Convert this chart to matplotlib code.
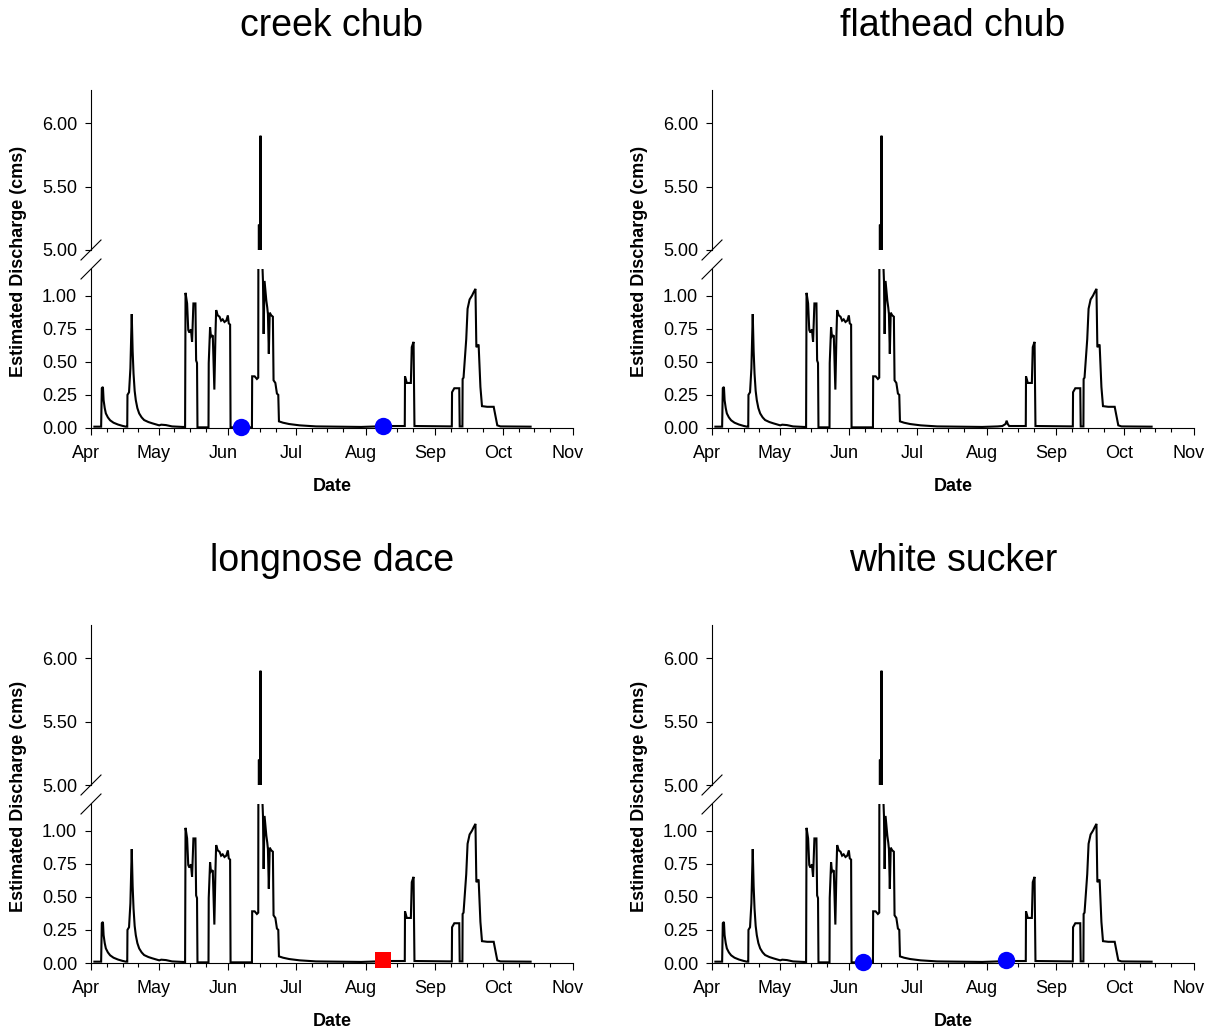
import numpy as np
import pandas as pd
import matplotlib
matplotlib.use('Agg')
import matplotlib.pyplot as plt
import matplotlib.dates as mdates
import matplotlib.ticker as mticker
import matplotlib.transforms as mtransforms

plt.rcParams['font.family'] = ['Liberation Sans', 'DejaVu Sans']

START = pd.Timestamp('2011-04-01')
END = pd.Timestamp('2011-11-01')

# estimated discharge record: days after 1 April, flow in cms
flowDays = [1.5, 4.5, 4.8, 5.3, 5.6, 6.1, 6.6, 7.5, 8.5, 10.0,
            12.0, 14.0, 15.5, 16.1,
            16.2, 16.9, 17.5, 18.1, 18.5, 18.9, 19.4, 19.9, 20.6, 21.4,
            22.5, 23.6, 25.5, 27.3, 30.3, 31.2,
            33.3, 36.0, 40.7, 41.8, 42.0, 42.7, 43.2, 43.7, 44.4, 44.9,
            45.5, 46.4, 46.7, 47.1, 47.3, 52.2, 52.3, 52.9, 53.3, 54.1,
            54.8, 55.3, 55.6, 56.3, 57.1, 57.8, 58.5, 59.3, 60.1, 60.8,
            61.2, 61.8, 62.0, 71.5, 71.6, 72.7, 73.7, 74.3, 74.6, 74.9,
            75.3, 75.6, 76.1, 76.4, 76.7, 77.1, 77.9, 78.3, 78.6, 79.0,
            79.4, 80.1, 80.8, 81.1, 81.9, 82.6, 83.2, 83.5, 85.3, 88.0,
            92.7, 100.0, 110.0, 120.0, 127.0, 129.0, 130.4, 130.9, 131.4, 132.0,
            139.4, 139.5, 140.3, 142.1, 142.5, 143.3, 143.7, 160.3, 160.4, 161.4,
            163.6, 163.8, 165.0, 165.1, 165.5, 166.7, 167.3, 168.2, 169.3, 170.0,
            170.8, 171.2, 172.2, 173.0, 173.7, 176.0, 178.9, 179.7, 180.5, 181.9,
            195.3]
flowCms = [0.01, 0.01, 0.30, 0.31, 0.21, 0.15, 0.11, 0.08, 0.058, 0.04,
           0.026, 0.016, 0.01, 0.01,
           0.25, 0.27, 0.45, 0.86, 0.58, 0.41, 0.28, 0.21, 0.15, 0.11,
           0.08, 0.06, 0.045, 0.035, 0.02, 0.025,
           0.022, 0.012, 0.008, 0.008, 1.02, 0.94, 0.74, 0.72, 0.745, 0.65,
           0.94, 0.94, 0.51, 0.49, 0.005, 0.005, 0.49, 0.76, 0.69, 0.70,
           0.29, 0.71, 0.89, 0.85, 0.84, 0.81, 0.82, 0.80, 0.81, 0.85,
           0.79, 0.78, 0.005, 0.005, 0.39, 0.39, 0.37, 0.38, 5.2, 1.3,
           5.9, 1.3, 1.25, 1.11, 0.71, 1.11, 0.96, 0.91, 0.86, 0.56,
           0.87, 0.85, 0.84, 0.36, 0.34, 0.26, 0.25, 0.05, 0.04, 0.03,
           0.02, 0.012, 0.01, 0.008, 0.012, 0.015, 0.03, 0.055, 0.03, 0.015,
           0.015, 0.39, 0.34, 0.34, 0.61, 0.65, 0.015, 0.012, 0.27, 0.30,
           0.30, 0.012, 0.012, 0.37, 0.38, 0.67, 0.90, 0.97, 1.00, 1.025,
           1.05, 0.61, 0.63, 0.31, 0.165, 0.16, 0.16, 0.09, 0.02, 0.012,
           0.01]

species = ['creek chub', 'flathead chub', 'longnose dace', 'white sucker']

# capture events (days after 1 April, flow at capture)
creekChubDays = [66.6, 129.8]
creekChubQ = [0.01, 0.015]
longnoseDaceDays = [129.8]
longnoseDaceQ = [0.02]
whiteSuckerDays = [67.0, 130.5]
whiteSuckerQ = [0.01, 0.02]

captures = {
    'creek chub': (creekChubDays, creekChubQ, 'o', 'blue', 12.5),
    'longnose dace': (longnoseDaceDays, longnoseDaceQ, 's', 'red', 11),
    'white sucker': (whiteSuckerDays, whiteSuckerQ, 'o', 'blue', 12.5),
}

W, H = 1220, 1034
fig = plt.figure(figsize=(W / 100, H / 100), dpi=100)


def add_ax(left, top, right, bottom):
    return fig.add_axes([left / W, 1 - bottom / H, (right - left) / W, (bottom - top) / H])


t = START + pd.to_timedelta(flowDays, unit='D')
axW = 481.7
labelShift = mtransforms.ScaledTranslation(-5 / 100, 0, fig.dpi_scale_trans)

for i, name in enumerate(species):
    dx = 621 * (i % 2)
    dy = 535 * (i // 2)
    axTop = add_ax(91 + dx, 90 + dy, 91 + axW + dx, 250 + dy)
    axBot = add_ax(91 + dx, 269 + dy, 91 + axW + dx, 428 + dy)

    for ax in (axTop, axBot):
        ax.plot(t, flowCms, color='black', lw=1.5, solid_joinstyle='miter')
        ax.set_xlim(START, END)
        ax.spines['top'].set_visible(False)
        ax.spines['right'].set_visible(False)
        ax.spines['left'].set_linewidth(0.8)
        ax.spines['bottom'].set_linewidth(0.8)
        ax.tick_params(axis='y', which='major', direction='out', length=4,
                       width=0.8, pad=6, labelsize=13)

    axTop.spines['bottom'].set_visible(False)
    axTop.tick_params(axis='x', which='both', bottom=False, labelbottom=False)
    axTop.set_ylim(5.0, 6.26)
    axTop.set_yticks([5.0, 5.5, 6.0])
    axTop.yaxis.set_major_formatter(mticker.FormatStrFormatter('%.2f'))

    axBot.set_ylim(0, 1.2)
    axBot.set_yticks([0, 0.25, 0.5, 0.75, 1.0])
    axBot.yaxis.set_major_formatter(mticker.FormatStrFormatter('%.2f'))
    monthTicks = pd.date_range(START, END, freq='MS')
    axBot.set_xticks(monthTicks)
    axBot.set_xticklabels([m.strftime('%b') for m in monthTicks])
    axBot.xaxis.set_minor_locator(mdates.DayLocator(bymonthday=[8, 15, 22]))
    axBot.tick_params(axis='x', which='major', direction='out', length=5,
                      width=0.8, pad=7, labelsize=13)
    axBot.tick_params(axis='x', which='minor', direction='out', length=3, width=0.8)
    for lab in axBot.get_xticklabels():
        lab.set_transform(lab.get_transform() + labelShift)

    if name in captures:
        days, q, mk, col, ms = captures[name]
        axBot.plot(START + pd.to_timedelta(days, unit='D'), q, mk, color=col,
                   ms=ms, mew=0, clip_on=False, zorder=5)

    # axis break marks
    d = 10
    kw = dict(color='black', lw=0.8, clip_on=False)
    axTop.plot([-d / axW, d / axW], [-d / 160, d / 160], transform=axTop.transAxes, **kw)
    axBot.plot([-d / axW, d / axW], [1 - d / 159, 1 + d / 159], transform=axBot.transAxes, **kw)

    cx = (91 + axW / 2 + dx) / W
    fig.text(cx, 1 - (36 + dy) / H, name, fontsize=27, ha='center', va='baseline')
    fig.text(cx, 1 - (491 + dy) / H, 'Date', fontsize=13, fontweight='bold',
             ha='center', va='baseline')
    fig.text((19 + dx) / W, 1 - (261 + dy) / H, 'Estimated Discharge (cms)',
             fontsize=13, fontweight='bold', rotation=90, ha='center', va='center')

fig.savefig('out.png', dpi=100)
